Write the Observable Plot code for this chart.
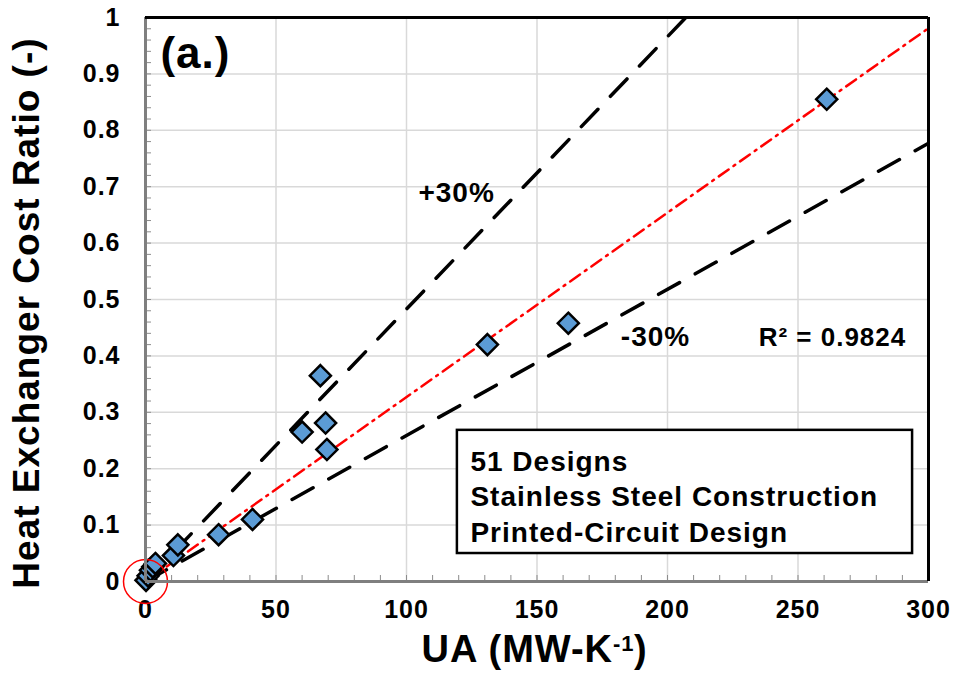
<!DOCTYPE html>
<html>
<head>
<meta charset="utf-8">
<script src="https://cdn.jsdelivr.net/npm/d3@7"></script>
<script src="https://cdn.jsdelivr.net/npm/@observablehq/plot@0.6"></script>
<style>
  body { margin: 0; background: #fff; }
  svg text { font-family: "Liberation Sans", Arial, sans-serif; font-weight: bold; letter-spacing: 1px; }
  g[aria-label="y-title"] text { letter-spacing: 2px; }
</style>
</head>
<body>
<div id="chart"></div>
<script>
// Heat exchanger designs: conductance UA (MW/K) vs. cost ratio
const ua        = [0.2, 1.0, 1.9, 2.8, 3.8, 10.7, 12.4, 28, 41, 60, 67, 69, 69.5, 131, 162, 261];
const costRatio = [0.002, 0.010, 0.020, 0.026, 0.032, 0.046, 0.065, 0.083, 0.110, 0.265, 0.365, 0.281, 0.234, 0.420, 0.458, 0.855];

// Linear fit through the origin and the upper / lower bounding lines (slopes, ratio per MW/K)
const fitSlope   = 0.00327;
const upperSlope = 0.00483;
const lowerSlope = 0.00259;
const rSquared   = "0.9824";

const xTicks = [0, 50, 100, 150, 200, 250, 300];
const yTicks = [0, 0.1, 0.2, 0.3, 0.4, 0.5, 0.6, 0.7, 0.8, 0.9, 1];
const xMinor = d3.range(0, 301, 10);
const yMinor = d3.range(0, 51).map(i => i / 50);

const boxLines = ["51 Designs", "Stainless Steel Construction", "Printed-Circuit Design"];

const designs = ua.map((u, i) => ({ua: u, ratio: costRatio[i]}));
const lineThrough = k => [0, 300].map(x => ({x, y: k * x}));

const chart = Plot.plot({
  width: 953,
  height: 687,
  marginLeft: 145,
  marginRight: 25,
  marginTop: 17,
  marginBottom: 106,
  x: {domain: [0, 300]},
  y: {domain: [0, 1]},
  style: {fontSize: "25px", fontFamily: "Liberation Sans, Arial, sans-serif", fontWeight: "bold", color: "black", background: "white"},
  marks: [
    Plot.gridX(xTicks, {stroke: "#d9d9d9", strokeOpacity: 1, strokeWidth: 1.5}),
    Plot.gridY(yTicks, {stroke: "#d9d9d9", strokeOpacity: 1, strokeWidth: 1.5}),
    // inward minor ticks
    Plot.axisX(xMinor, {anchor: "bottom", tickSize: 6, dy: -6, tickFormat: () => "", label: null, stroke: "#8c8c8c"}),
    Plot.axisY(yMinor, {anchor: "left", tickSize: 6, dx: 6, tickFormat: () => "", label: null, stroke: "#8c8c8c"}),
    Plot.axisX(xTicks, {anchor: "bottom", tickSize: 0, tickPadding: 19, label: null, fontSize: 25}),
    Plot.axisY(yTicks, {anchor: "left", tickSize: 0, tickPadding: 25, tickFormat: d => String(d), label: null, fontSize: 25}),
    // bounding lines and fit
    Plot.line(lineThrough(upperSlope), {x: "x", y: "y", stroke: "black", strokeWidth: 3.5, strokeDasharray: "24,18", strokeLinecap: "round", clip: true}),
    Plot.line(lineThrough(lowerSlope), {x: "x", y: "y", stroke: "black", strokeWidth: 3.5, strokeDasharray: "24,18", strokeLinecap: "round", clip: true}),
    Plot.line(lineThrough(fitSlope), {x: "x", y: "y", stroke: "#ff0000", strokeWidth: 2.5, strokeDasharray: "12,6,2,6", clip: true}),
    // designs
    Plot.dot(designs, {x: "ua", y: "ratio", symbol: "diamond2", r: 9.5, fill: "#5b9bd5", stroke: "black", strokeWidth: 2.5}),
    // highlight ring at the origin
    Plot.dot([{x: 0, y: 0}], {x: "x", y: "y", r: 22, fill: "none", stroke: "#ff0000", strokeWidth: 1.5}),
    // legend box
    Plot.rect([{}], {x1: 119.5, x2: 293.9, y1: 0.0496, y2: 0.268, fill: "white", stroke: "black", strokeWidth: 2.5}),
    Plot.text([boxLines.join("\n")], {x: 124.5, y: 0.241, textAnchor: "start", lineAnchor: "top", lineHeight: 1.27, fontSize: 28}),
    // annotations
    Plot.text(["(a.)"], {x: 5.7, y: 0.936, textAnchor: "start", lineAnchor: "middle", fontSize: 44}),
    Plot.text(["+30%"], {x: 119.2, y: 0.688, fontSize: 28}),
    Plot.text(["-30%"], {x: 195.4, y: 0.433, fontSize: 28}),
    Plot.text([`R² = ${rSquared}`], {x: 263.2, y: 0.433, fontSize: 26}),
    // axis titles
    Plot.text(["Heat Exchanger Cost Ratio (-)"], {x: -45.4, y: 0.476, rotate: -90, fontSize: 37, ariaLabel: "y-title"}),
    Plot.text(["UA (MW-K"], {frameAnchor: "bottom", textAnchor: "start", dx: -115.5, dy: 80, fontSize: 38}),
    Plot.text(["-1"], {frameAnchor: "bottom", textAnchor: "start", dx: 76, dy: 69, fontSize: 22}),
    Plot.text([")"], {frameAnchor: "bottom", textAnchor: "start", dx: 97, dy: 80, fontSize: 38}),
    // plot frame
    Plot.ruleX([0], {stroke: "#7f7f7f", strokeWidth: 3}),
    Plot.ruleY([0], {stroke: "#7f7f7f", strokeWidth: 3}),
    Plot.ruleX([300], {stroke: "black", strokeWidth: 3}),
    Plot.ruleY([1], {stroke: "black", strokeWidth: 3})
  ]
});

document.getElementById("chart").appendChild(chart);
</script>
</body>
</html>
